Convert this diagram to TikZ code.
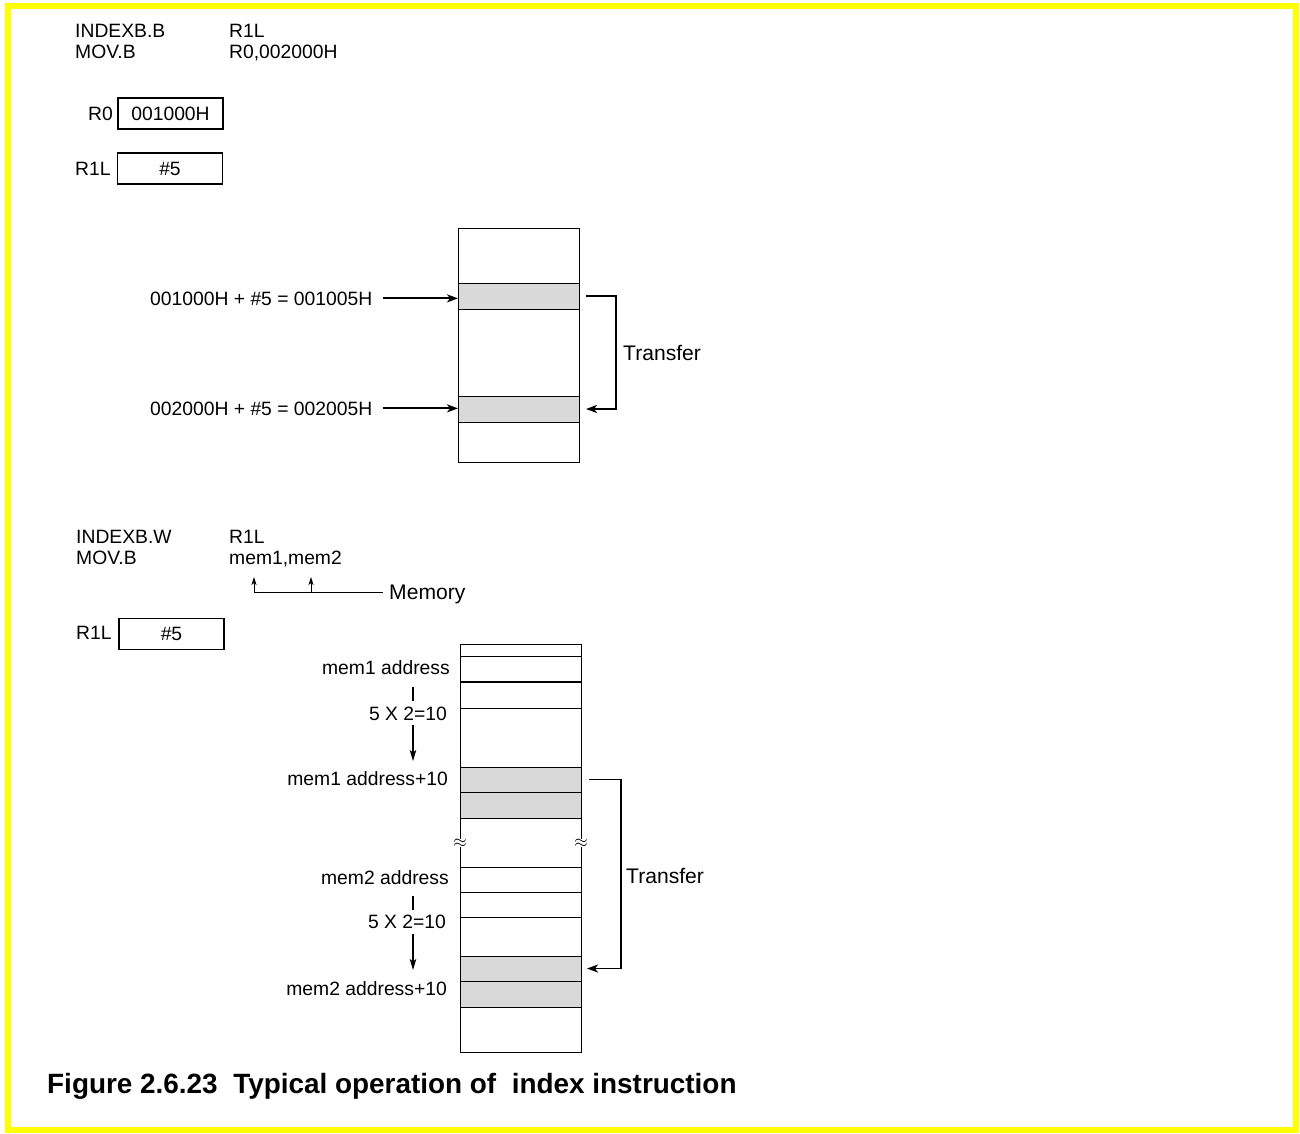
\documentclass[tikz,border=0pt]{standalone}
\usepackage{fontspec}
\setmainfont{Liberation Sans}
\usetikzlibrary{arrows.meta}
\definecolor{cellgray}{HTML}{D9D9D9}
\definecolor{frameyellow}{HTML}{FFFF00}
\begin{document}
\begin{tikzpicture}[x=1pt,y=-1pt,
  txt/.style={font=\fontsize{19.3}{23}\selectfont, inner sep=0pt},
  bigtxt/.style={font=\fontsize{21.1}{25}\selectfont, inner sep=0pt},
  regbox/.style={draw, line width=1.3pt, minimum width=105pt, minimum height=31pt, inner sep=0pt, font=\fontsize{19.3}{23}\selectfont},
  colbox/.style={draw, line width=0.9pt, minimum width=121pt, inner sep=0pt, outer sep=0pt},
  cell/.style={draw, line width=0.9pt, minimum width=121pt, inner sep=0pt, outer sep=0pt},
  graycell/.style={cell, fill=cellgray},
  bigarrow/.style={line width=1.9pt, -{Stealth[length=11pt,width=8pt,inset=3pt]}},
  smallarrow/.style={line width=0.9pt, -{Stealth[length=8pt,width=5pt,inset=2pt]}},
  downarrow/.style={line width=1.4pt, -{Stealth[length=11pt,width=6.5pt,inset=2.5pt]}},
  brk/.style={fill=white, inner sep=0.3pt, font=\fontsize{18}{18}\selectfont}
]
\useasboundingbox (0,0) rectangle (1300,1133);
\draw[frameyellow, line width=6pt] (8,6) rectangle (1296,1130);

% ---------- top block ----------
\node[txt, anchor=base west] (i1) at (75,37) {INDEXB.B};
\node[txt, anchor=base west] (i1op) at (229,37) {R1L};
\node[txt, anchor=base west] (i2) at (75,58) {MOV.B};
\node[txt, anchor=base west] (i2op) at (229,58) {R0,002000H};

\node[regbox] (r0box) at (170.5,113.5) {001000H};
\node[txt, anchor=east] (r0lab) at (113,113.5) {R0};
\node[regbox] (r1box) at (170,168.5) {\#5};
\node[txt, anchor=base west] (r1lab) at (75,175) {R1L};

\node[colbox, minimum height=234pt] (col1) at (518.5,345) {};
\node[graycell, minimum height=26pt] (m1a) at (518.5,296) {};
\node[graycell, minimum height=26pt] (m1b) at (518.5,409) {};

\node[txt, anchor=base west] (a1) at (150,305) {001000H + \#5 = 001005H};
\node[txt, anchor=base west] (a2) at (150,415) {002000H + \#5 = 002005H};
\draw[bigarrow] ([xshift=10pt]a1.east) -- (a1.east -| m1a.west);
\draw[bigarrow] ([xshift=10pt]a2.east) -- (a2.east -| m1b.west);

\draw[bigarrow] ([xshift=7pt]m1a.east) -- ++(30,0) |- ([xshift=7pt]m1b.east);
\node[bigtxt, anchor=base west] (t1) at (623,360) {Transfer};

% ---------- bottom block ----------
\node[txt, anchor=base west] (j1) at (76,543) {INDEXB.W};
\node[txt, anchor=base west] (j1op) at (229,543) {R1L};
\node[txt, anchor=base west] (j2) at (76,564) {MOV.B};
\node[txt, anchor=base west] (j2op) at (229,564) {mem1,mem2};

\node[bigtxt, anchor=base west] (memory) at (389,599) {Memory};
\coordinate (ma) at (254,592);
\coordinate (mb) at (311,592);
\draw[line width=0.9pt] (ma) -- ([xshift=-6pt]memory.west |- ma);
\draw[smallarrow] (ma) -- ++(0,-15);
\draw[smallarrow] (mb) -- ++(0,-15);

\node[regbox] (r1box2) at (171.5,634) {\#5};
\node[txt, anchor=base west] (r1lab2) at (76,639) {R1L};

\node[colbox, minimum height=408pt] (col2) at (520.5,848) {};
\node[cell, minimum height=26pt] (c0) at (520.5,669) {};
\node[cell, minimum height=26pt] (c1) at (520.5,695) {};
\draw[line width=1.6pt] (c0.south west) -- (c0.south east);
\node[graycell, minimum height=25pt] (g1) at (520.5,779.5) {};
\node[graycell, minimum height=26pt] (g2) at (520.5,805) {};
\node[cell, minimum height=25pt] (c2) at (520.5,879.5) {};
\node[cell, minimum height=25pt] (c3) at (520.5,904.5) {};
\node[graycell, minimum height=25pt] (g3) at (520.5,968.5) {};
\node[graycell, minimum height=26pt] (g4) at (520.5,994) {};

\node[brk] (bk1) at (col2.west |- 0,843) {$\approx$};
\node[brk] (bk2) at (col2.east |- 0,843) {$\approx$};

\node[txt, anchor=base east] (l1) at (450,674) {mem1 address};
\node[txt, anchor=base east] (l2) at (447,720) {5 X 2=10};
\node[txt, anchor=base east] (l3) at (448,785) {mem1 address+10};
\node[txt, anchor=base east] (l4) at (449,884) {mem2 address};
\node[txt, anchor=base east] (l5) at (446,928) {5 X 2=10};
\node[txt, anchor=base east] (l6) at (447,995) {mem2 address+10};

\draw[line width=1.3pt] (413,687) -- (413,701);
\draw[downarrow] (413,725) -- (413,761);
\draw[line width=1.3pt] (413,896) -- (413,910);
\draw[downarrow] (413,934) -- (413,970);

\draw[bigarrow] ([xshift=8pt]g1.east) -- ++(32,0) |- ([xshift=6pt]g3.east);
\node[bigtxt, anchor=base west] (t2) at (626,883) {Transfer};

% ---------- caption ----------
\node[inner sep=0pt, anchor=base west, font=\bfseries\fontsize{27.9}{32}\selectfont] (cap) at (47,1093) {Figure 2.6.23\ \ Typical operation of\ \ index instruction};
\end{tikzpicture}
\end{document}
